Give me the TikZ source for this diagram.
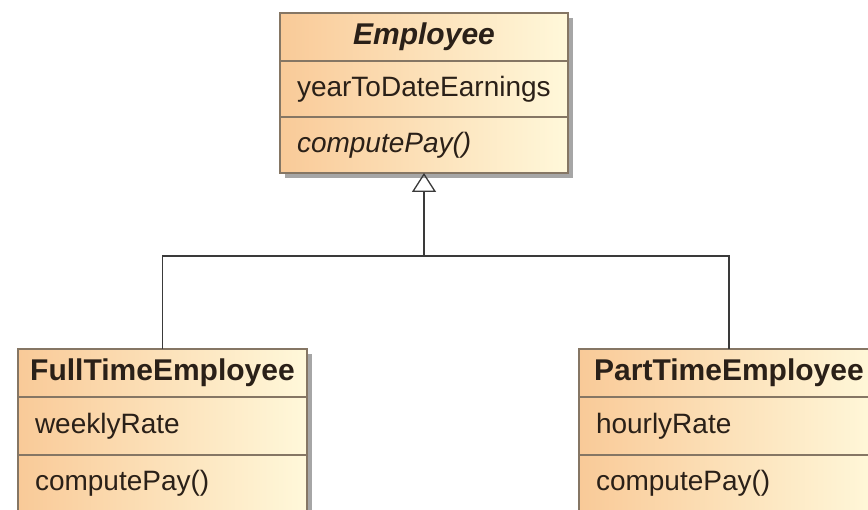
\documentclass[tikz,border=0pt]{standalone}
\usepackage{fontspec}
\setmainfont{Liberation Sans}
\usetikzlibrary{arrows.meta,positioning,backgrounds}
\tikzset{>={Triangle[open,width=24pt,length=19pt]}}
\definecolor{classleft}{HTML}{F9CA98}
\definecolor{classright}{HTML}{FFF8DA}
\definecolor{classedge}{HTML}{857664}
\definecolor{textdark}{HTML}{2A2018}
\definecolor{linedark}{HTML}{3A3A3A}
\definecolor{shadowgray}{HTML}{A6A6A6}

\begin{document}
\begin{tikzpicture}[x=1pt,y=-1pt,
  every node/.style={outer sep=0pt},
  umlbox/.style={draw=classedge,line width=1.2pt,left color=classleft,right color=classright,
    text=textdark,font=\fontsize{28}{32}\selectfont},
  umlrow/.style={umlbox,inner xsep=17pt,inner ysep=0pt,text width=#1,minimum height=56pt,align=flush left},
  umltitle/.style={umlbox,inner sep=0pt,minimum width=#1,minimum height=48pt,align=center,
    font=\fontsize{30}{34}\selectfont\bfseries},
  shadowbox/.style={fill=shadowgray},
  inherit/.style={draw=linedark,line width=1.3pt}]
  \useasboundingbox (0,0) rectangle (868,510);

  % abstract superclass
  \node[umltitle=288pt,font=\fontsize{30}{34}\selectfont\bfseries\itshape] (empName) at (424,37) {Employee};
  \node[umlrow=254pt,below=0pt of empName] (empAttr) {yearToDateEarnings};
  \node[umlrow=254pt,below=0pt of empAttr,font=\fontsize{28}{32}\selectfont\itshape] (empOps) {computePay()};

  % subclasses
  \node[umltitle=289pt] (ftName) at (162.5,373) {FullTimeEmployee};
  \node[umlrow=255pt,minimum height=58pt,below=0pt of ftName] (ftAttr) {weeklyRate};
  \node[umlrow=255pt,below=0pt of ftAttr] (ftOps) {computePay()};

  \node[umltitle=300pt] (ptName) at (729,373) {PartTimeEmployee};
  \node[umlrow=266pt,minimum height=58pt,below=0pt of ptName] (ptAttr) {hourlyRate};
  \node[umlrow=266pt,below=0pt of ptAttr] (ptOps) {computePay()};

  % generalization
  \coordinate (fork) at ([yshift=-83pt]empOps.south);
  \draw[inherit] (ftName.north) |- (fork) -| (ptName.north);
  \draw[inherit,->] (fork) -- (empOps.south);

  \begin{scope}[on background layer]
    \fill[white] (0,0) rectangle (868,510);
    \fill[shadowbox] ([shift={(5,5)}]empName.north west) rectangle ([shift={(5,5)}]empOps.south east);
    \fill[shadowbox] ([shift={(5,5)}]ftName.north west) rectangle ([shift={(5,5)}]ftOps.south east);
    \fill[shadowbox] ([shift={(5,5)}]ptName.north west) rectangle ([shift={(5,5)}]ptOps.south east);
  \end{scope}
\end{tikzpicture}
\end{document}
